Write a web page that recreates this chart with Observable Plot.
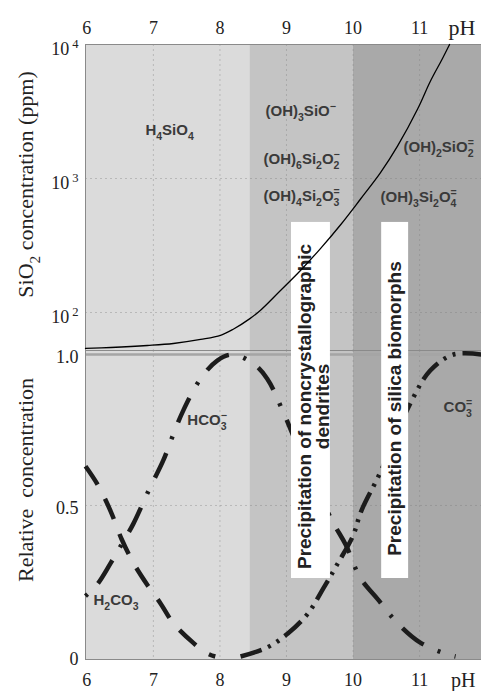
<!DOCTYPE html>
<html><head><meta charset="utf-8">
<script src="https://cdn.jsdelivr.net/npm/d3@7"></script>
<script src="https://cdn.jsdelivr.net/npm/@observablehq/plot@0.6"></script>
<style>
body{margin:0;background:#fff;}
#chart{position:relative;width:481px;height:691px;}
#top{position:relative;z-index:2;height:350px;}
#bottom{position:relative;z-index:1;height:341px;}
svg{display:block;overflow:visible;}
</style></head><body><div id="chart"><div id="top"></div><div id="bottom"></div></div>
<script>
// ---------- data ----------
const phTicks = [6, 7, 8, 9, 10, 11];
const ppmTicks = [100, 1000, 10000];
const relTicks = [0, 0.5, 1.0];
const zoneEdges = [5.98, 8.45, 10, 11.93];

const silicaPH  = [5.98, 6.36, 6.91, 7.30, 7.71, 8.01, 8.20, 8.45, 8.61, 8.91, 9.21, 9.51, 9.81, 10.11, 10.41, 10.67, 10.97, 11.16, 11.34, 11.45];
const silicaPPM = [53.9, 54.8, 56.7, 58.7, 62.9, 67.5, 75, 90, 104, 146, 206, 300, 450, 700, 1100, 1750, 3300, 5300, 7800, 10000];

const h2co3PH  = [5.98, 6.16, 6.36, 6.52, 6.70, 6.90, 7.11, 7.30, 7.60, 7.81, 7.93];
const h2co3Val = [0.63, 0.57, 0.48, 0.39, 0.31, 0.24, 0.175, 0.11, 0.045, 0.01, 0];

const hco3PH  = [5.98, 6.16, 6.36, 6.52, 6.70, 6.93, 7.15, 7.29, 7.45, 7.71, 7.96, 8.19, 8.50, 8.71, 8.94, 9.35, 9.71, 9.89, 10.11, 10.37, 10.67, 11.01, 11.42, 11.54];
const hco3Val = [0.20, 0.24, 0.31, 0.37, 0.44, 0.55, 0.65, 0.73, 0.815, 0.92, 0.98, 1.0, 0.97, 0.92, 0.815, 0.60, 0.44, 0.37, 0.26, 0.19, 0.11, 0.046, 0.007, 0];

const co3PH  = [8.31, 8.71, 9.02, 9.32, 9.56, 9.77, 10.0, 10.12, 10.41, 10.86, 11.16, 11.51, 11.93];
const co3Val = [0, 0.03, 0.076, 0.142, 0.228, 0.308, 0.40, 0.48, 0.61, 0.838, 0.947, 1.0, 1.0];

const silicaSpecies = ["H_4SiO_4", "(OH)_3SiO^−", "(OH)_6Si_2O_2^−", "(OH)_4Si_2O_3^=", "(OH)_2SiO_2^=", "(OH)_3Si_2O_4^="];
const silicaSpeciesPH  = [6.88, 8.685, 8.655, 8.655, 10.758, 10.413];
const silicaSpeciesPPM = [2280, 3160, 1390, 735, 1700, 721];

const carbSpecies = ["HCO_3^−", "CO_3^=", "H_2CO_3"];
const carbSpeciesPH  = [7.51, 11.36, 6.10];
const carbSpeciesVal = [0.781, 0.825, 0.185];

const boxLabels = ["Precipitation of noncrystallographic\ndendrites", "Precipitation of silica biomorphs"];
const boxFromPH = [9.075, 10.43];
const boxToPH   = [9.66, 10.835];
const boxTopPPM = 470, boxBottomPPM = 1.035;
const boxTextPH  = [9.42, 10.64];
const boxTextPPM = [19.9, 19.2];

const topTitle = "SiO_2 concentration (ppm)";
const bottomTitle = "Relative  concentration";
const xName = "pH";

// ---------- build ----------
const serif = "'Liberation Serif','Times New Roman',serif";
const sans = "'Liberation Sans',Arial,sans-serif";
const zoneFills = ["#dbdbdb", "#c4c4c4", "#a9a9a9"];
const zones = zoneEdges.slice(0, -1).map((a, i) => ({x1: a, x2: zoneEdges[i + 1], k: i}));
const silica = silicaPH.map((x, i) => ({x, y: silicaPPM[i]}));
const h2co3 = h2co3PH.map((x, i) => ({x, y: h2co3Val[i]}));
const hco3 = hco3PH.map((x, i) => ({x, y: hco3Val[i]}));
const co3 = co3PH.map((x, i) => ({x, y: co3Val[i]}));
const sSpec = silicaSpecies.map((t, i) => ({t, x: silicaSpeciesPH[i], y: silicaSpeciesPPM[i]}));
const cSpec = carbSpecies.map((t, i) => ({t, x: carbSpeciesPH[i], y: carbSpeciesVal[i]}));
const boxes = boxLabels.map((t, i) => ({t, x1: boxFromPH[i], x2: boxToPH[i], tx: boxTextPH[i], ty: boxTextPPM[i]}));
const xDomain = [zoneEdges[0], zoneEdges[zoneEdges.length - 1]];
const ink = "#1c1c1c";
const gridStyle = {stroke: "#777", strokeOpacity: 0.35, strokeDasharray: "2,3"};

const zoneMarks = zones.map(z => Plot.rect([z], {x1: "x1", x2: "x2", fill: zoneFills[z.k]}));

const topPlot = Plot.plot({
  width: 481, height: 350, marginTop: 44, marginBottom: 0, marginLeft: 85, marginRight: 0,
  style: {fontFamily: serif, background: "transparent", overflow: "visible", color: "#222"},
  x: {domain: xDomain},
  y: {type: "log", domain: [52.05, 10000]},
  marks: [
    ...zoneMarks,
    Plot.gridX(phTicks.slice(1), gridStyle),
    Plot.gridY([100, 1000], gridStyle),
    Plot.frame({stroke: "#8a8a8a"}),
    Plot.axisX({anchor: "top", ticks: phTicks, tickSize: 0, tickPadding: 11, fontSize: 18, label: null, tickFormat: "d"}),
    Plot.axisY({ticks: ppmTicks, tickSize: 0, tickPadding: 7, fontSize: 18, dy: 5, label: null,
      tickFormat: d => "10^" + Math.round(Math.log10(d))}),
    Plot.text([xName], {frameAnchor: "top-right", dx: -6, dy: -17, fontSize: 22, textAnchor: "end", lineAnchor: "middle"}),
    Plot.text([topTitle], {frameAnchor: "left", rotate: -90, dx: -60, dy: -13, fontSize: 22, textAnchor: "middle", lineAnchor: "middle"}),
    Plot.text(sSpec, {x: "x", y: "y", text: "t", textAnchor: "start", fontFamily: sans, fontWeight: "bold", fontSize: 15, fill: "#3a3a3a"}),
    Plot.rect(boxes, {x1: "x1", x2: "x2", y1: () => boxTopPPM, y2: () => boxBottomPPM, fill: "white"}),
    Plot.text(boxes, {x: "tx", y: "ty", text: "t", rotate: -90, fontFamily: sans, fontWeight: "bold", fontSize: 19, lineHeight: 0.95, fill: "#222"}),
    Plot.line(silica, {x: "x", y: "y", stroke: "#000", strokeWidth: 1.3, curve: "catmull-rom"})
  ]
});

const dashStyle = {stroke: ink, strokeWidth: 4.5, curve: "catmull-rom", strokeLinecap: "butt"};
const bottomPlot = Plot.plot({
  width: 481, height: 341, marginTop: 0, marginBottom: 32, marginLeft: 85, marginRight: 0,
  style: {fontFamily: serif, background: "transparent", overflow: "visible", color: "#222"},
  x: {domain: xDomain},
  y: {domain: [-0.0099, 1.0132]},
  marks: [
    ...zoneMarks,
    Plot.gridX(phTicks.slice(1), gridStyle),
    Plot.gridY([0.5], gridStyle),
    Plot.ruleY([1], {stroke: "#a5a5a5", strokeWidth: 2.5}),
    Plot.frame({stroke: "#8a8a8a"}),
    Plot.axisX({anchor: "bottom", ticks: phTicks, tickSize: 0, tickPadding: 14, fontSize: 18, label: null, tickFormat: "d"}),
    Plot.axisY({ticks: relTicks, tickSize: 0, tickPadding: 7, fontSize: 18, dy: 3, label: null,
      tickFormat: d => d === 0 ? "0" : d3.format(".1f")(d)}),
    Plot.text([xName], {frameAnchor: "bottom-right", dx: -6, dy: 21, fontSize: 20, textAnchor: "end", lineAnchor: "middle"}),
    Plot.text([bottomTitle], {frameAnchor: "left", rotate: -90, dx: -60, dy: -25, fontSize: 22, textAnchor: "middle", lineAnchor: "middle"}),
    Plot.line(h2co3, {x: "x", y: "y", ...dashStyle, strokeDasharray: "22,16"}),
    Plot.line(hco3, {x: "x", y: "y", ...dashStyle, strokeDasharray: "27,15,3,15", strokeDashoffset: 42}),
    Plot.line(co3, {x: "x", y: "y", ...dashStyle, strokeDasharray: "22,7,3,7,3,7"}),
    Plot.text(cSpec, {x: "x", y: "y", text: "t", textAnchor: "start", fontFamily: sans, fontWeight: "bold", fontSize: 15, fill: "#3a3a3a"})
  ]
});

document.getElementById("top").appendChild(topPlot);
document.getElementById("bottom").appendChild(bottomPlot);

// rich text: _x subscript, ^x superscript (stacked over a preceding subscript)
const svgNS = "http://www.w3.org/2000/svg";
function rich(textEl, supGap) {
  const markup = textEl.textContent;
  if (!/[_^]/.test(markup) || textEl.querySelector("tspan")) return;
  const fs = parseFloat(getComputedStyle(textEl).fontSize) || 15;
  const segs = [];
  let i = 0;
  while (i < markup.length) {
    const ch = markup[i];
    if (ch === "_" || ch === "^") { segs.push({mode: ch === "_" ? "sub" : "sup", t: markup[i + 1]}); i += 2; }
    else { let j = i; while (j < markup.length && markup[j] !== "_" && markup[j] !== "^") j++; segs.push({mode: "n", t: markup.slice(i, j)}); i = j; }
  }
  while (textEl.firstChild) textEl.removeChild(textEl.firstChild);
  let cur = 0, prevSub = null;
  segs.forEach(s => {
    const ts = document.createElementNS(svgNS, "tspan");
    ts.textContent = s.t;
    const target = s.mode === "sub" ? 0.32 * fs : s.mode === "sup" ? -0.42 * fs : 0;
    if (target - cur !== 0) ts.setAttribute("dy", target - cur);
    cur = target;
    if (s.mode !== "n") ts.setAttribute("font-size", fs * 0.7);
    textEl.appendChild(ts);
    if (s.mode === "sup") {
      if (prevSub) ts.setAttribute("dx", -prevSub.getComputedTextLength());
      else if (supGap) ts.setAttribute("dx", supGap);
    }
    prevSub = s.mode === "sub" ? ts : null;
  });
}
document.querySelectorAll('g[aria-label="y-axis tick label"] text').forEach(t => rich(t, 3));
document.querySelectorAll('svg text').forEach(t => rich(t, 0));
</script></body></html>
